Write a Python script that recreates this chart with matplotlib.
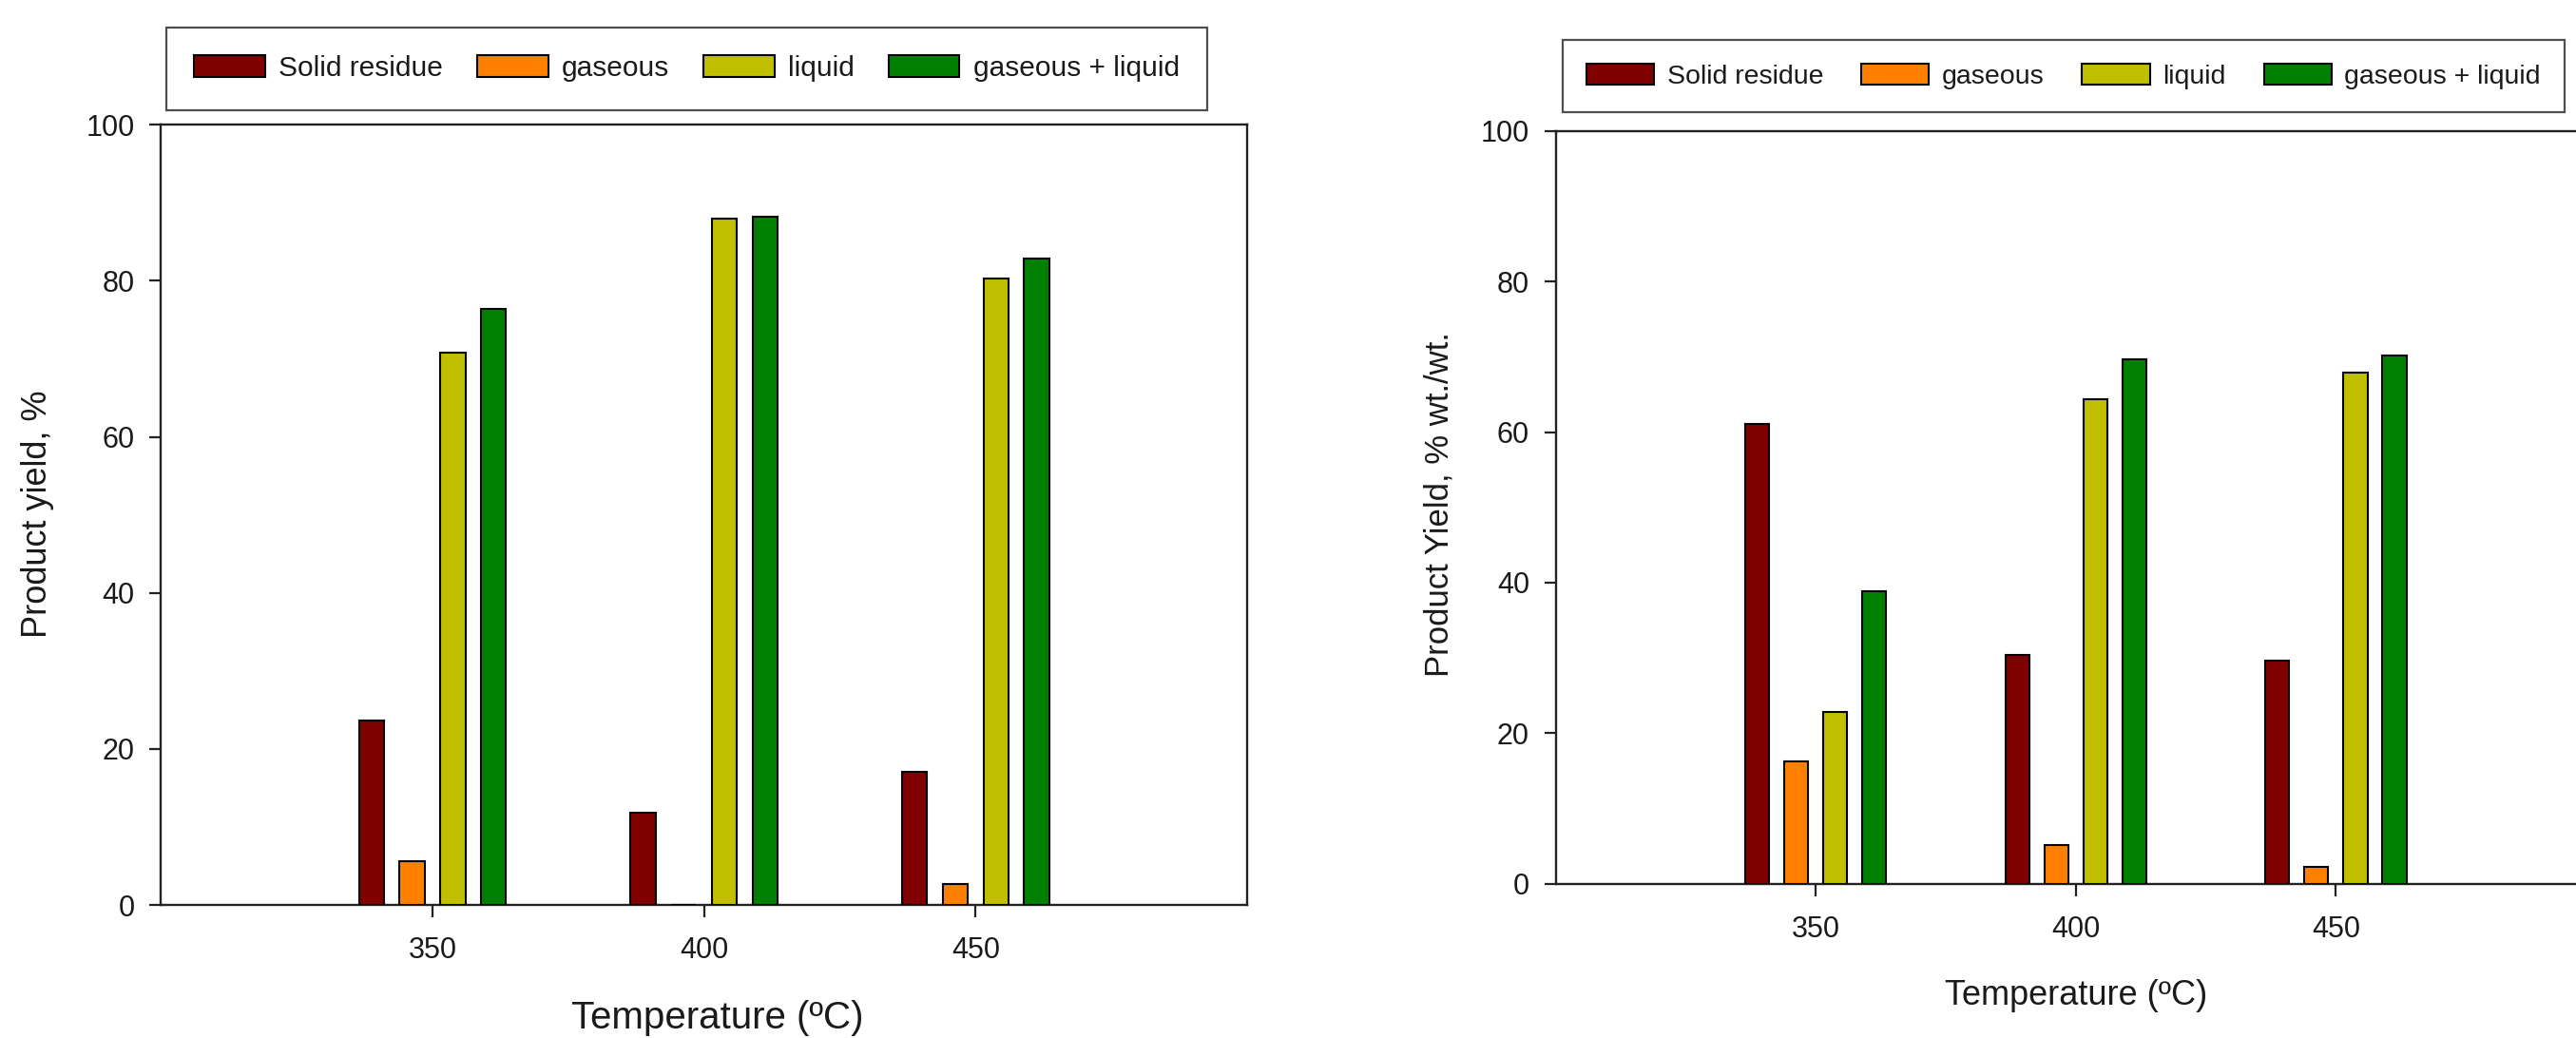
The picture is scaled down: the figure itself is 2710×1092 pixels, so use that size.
import matplotlib
matplotlib.use("Agg")
import matplotlib.pyplot as plt
import numpy as np
from matplotlib import font_manager

# ---------------- data ----------------
temps = [350, 400, 450]
series_names = ["Solid residue", "gaseous", "liquid", "gaseous + liquid"]
series_colors = ["#800000", "#FF8000", "#C0C000", "#008000"]

left_solid = [23.6, 11.8, 17.0]
left_gas = [5.6, 0.0, 2.7]
left_liquid = [70.8, 88.0, 80.3]
left_gl = [76.4, 88.2, 82.9]

right_solid = [61.1, 30.4, 29.7]
right_gas = [16.3, 5.2, 2.3]
right_liquid = [22.8, 64.4, 67.9]
right_gl = [38.9, 69.6, 70.2]

yticks = [0, 20, 40, 60, 80, 100]
left_ylabel = "Product yield, %"
right_ylabel = "Product Yield, % wt./wt."
xlabel = "Temperature (ºC)"

# ---------------- fonts ----------------
names = {f.name for f in font_manager.fontManager.ttflist}
regular = "Liberation Sans" if "Liberation Sans" in names else "DejaVu Sans"
narrow = "Liberation Sans Narrow" if "Liberation Sans Narrow" in names else regular
plt.rcParams["font.family"] = [regular, "DejaVu Sans"]

W, H = 2710, 1092
fig = plt.figure(figsize=(W / 100, H / 100), dpi=100)
fig.patch.set_facecolor("white")

offsets = [-11.25, -3.75, 3.75, 11.25]
bar_w = 4.6
txt_col = "#1a1a1a"


def make_panel(rect, data, ylabel, ylab_fs, xlab_fs, leg_anchor, leg_fs,
               ylab_xy, xlab_xy, borderpad, colspace):
    ax = fig.add_axes(rect)
    x = np.array(temps, dtype=float)
    handles = []
    for vals, off, col, name in zip(data, offsets, series_colors, series_names):
        h = ax.bar(x + off, vals, width=bar_w, color=col, edgecolor="black",
                   linewidth=1.5, label=name, zorder=3)
        handles.append(h)
    ax.set_xlim(300, 500)
    ax.set_ylim(0, 100)
    ax.set_xticks(temps)
    ax.set_xticklabels([str(t) for t in temps])
    ax.set_yticks(yticks)
    ax.set_yticklabels([str(t) for t in yticks])
    for s in ax.spines.values():
        s.set_linewidth(1.7)
        s.set_color("#222222")
    ax.tick_params(axis="both", direction="out", length=9, width=1.6,
                   colors="#222222", labelcolor=txt_col, labelsize=22)
    ax.tick_params(axis="y", pad=11)
    ax.tick_params(axis="x", pad=15)
    for lab in ax.get_xticklabels() + ax.get_yticklabels():
        lab.set_fontfamily([narrow, regular, "DejaVu Sans"])
    ax.set_ylabel(ylabel, fontsize=ylab_fs, color=txt_col)
    ax.yaxis.set_label_coords(ylab_xy[0], ylab_xy[1], transform=fig.transFigure)
    ax.set_xlabel(xlabel, fontsize=xlab_fs, color=txt_col)
    ax.xaxis.set_label_coords(xlab_xy[0], xlab_xy[1])
    ax.xaxis.label.set_verticalalignment("center")
    leg = fig.legend(handles=handles, labels=series_names, loc="upper left",
                     bbox_to_anchor=leg_anchor, bbox_transform=fig.transFigure,
                     ncol=4, fontsize=leg_fs, frameon=True, fancybox=False,
                     edgecolor="#222222", handlelength=2.5, handleheight=0.8,
                     handletextpad=0.48, columnspacing=colspace, borderpad=borderpad,
                     borderaxespad=0.0, labelcolor=txt_col)
    leg.get_frame().set_linewidth(1.6)
    return ax


left_rect = [169.3 / W, 1 - 952 / H, (1312 - 169.3) / W, (952 - 131.3) / H]
right_rect = [1636.7 / W, 1 - 929.8 / H, (2731 - 1636.7) / W, (929.8 - 137.7) / H]

make_panel(left_rect, [left_solid, left_gas, left_liquid, left_gl], left_ylabel,
           26, 29, (175 / W, 1 - 29 / H), 21.5,
           (57 / W, 1 - 541 / H), (0.512, -0.145), 0.98, 1.2)
make_panel(right_rect, [right_solid, right_gas, right_liquid, right_gl], right_ylabel,
           25, 26, (1644 / W, 1 - 42 / H), 20.5,
           (1531 / W, 1 - 531 / H), (0.5, -0.148), 0.87, 1.4)

fig.savefig("out.png", dpi=100, facecolor="white")
